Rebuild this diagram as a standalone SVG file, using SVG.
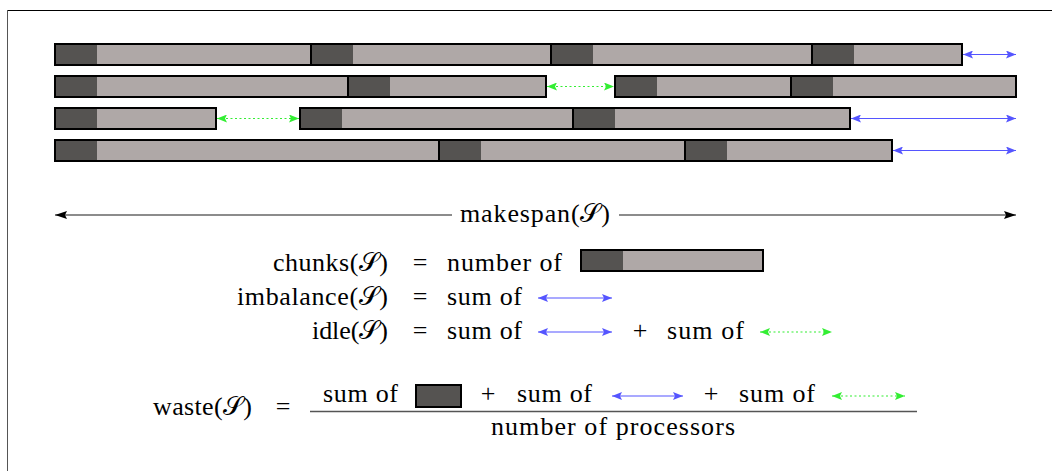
<svg xmlns="http://www.w3.org/2000/svg" width="1052" height="471" viewBox="0 0 1052 471">
<style>
  .lt { fill: #afa8a7; }
  .dk { fill: #555351; }
  .ol { fill: none; stroke: #000; stroke-width: 2; }
  .t { font-family: 'Liberation Serif', 'DejaVu Serif', serif; font-size: 26px; fill: #000; }
  .blue { stroke: #5555ff; stroke-width: 1.2; fill: none; marker-start: url(#bs); marker-end: url(#be); }
  .green { stroke: #33ee33; stroke-width: 1.2; fill: none; stroke-dasharray: 2 2.5; marker-start: url(#gs); marker-end: url(#ge); }
  .span { stroke: #666; stroke-width: 1.4; fill: none; }
</style>
<defs>
  <marker id="be" viewBox="0 0 10 8" refX="10" refY="4" markerWidth="10" markerHeight="8" markerUnits="userSpaceOnUse" orient="auto">
    <path d="M0,0 L10,4 L0,8 L2,4 z" fill="#5555ff"/>
  </marker>
  <marker id="bs" viewBox="0 0 10 8" refX="0" refY="4" markerWidth="10" markerHeight="8" markerUnits="userSpaceOnUse" orient="auto">
    <path d="M10,0 L0,4 L10,8 L8,4 z" fill="#5555ff"/>
  </marker>
  <marker id="ge" viewBox="0 0 10 8" refX="10" refY="4" markerWidth="10" markerHeight="8" markerUnits="userSpaceOnUse" orient="auto">
    <path d="M0,0 L10,4 L0,8 L2,4 z" fill="#33ee33"/>
  </marker>
  <marker id="gs" viewBox="0 0 10 8" refX="0" refY="4" markerWidth="10" markerHeight="8" markerUnits="userSpaceOnUse" orient="auto">
    <path d="M10,0 L0,4 L10,8 L8,4 z" fill="#33ee33"/>
  </marker>
  <marker id="ke" viewBox="0 0 12 8" refX="12" refY="4" markerWidth="12" markerHeight="8" markerUnits="userSpaceOnUse" orient="auto">
    <path d="M0,0 L12,4 L0,8 L2,4 z" fill="#000"/>
  </marker>
  <marker id="ks" viewBox="0 0 12 8" refX="0" refY="4" markerWidth="12" markerHeight="8" markerUnits="userSpaceOnUse" orient="auto">
    <path d="M12,0 L0,4 L12,8 L10,4 z" fill="#000"/>
  </marker>
</defs>

<rect x="0" y="0" width="1052" height="471" fill="#fff"/>
<g id="frame">
  <line x1="7" y1="10.5" x2="1052" y2="10.5" stroke="#000" stroke-width="1"/>
  <line x1="7.5" y1="10" x2="7.5" y2="471" stroke="#555" stroke-width="1"/>
</g>

<!-- Row 1 -->
<g id="row1">
  <g id="r1c1"><rect class="lt" x="55" y="44" width="256" height="21"/><rect class="dk" x="55" y="44" width="42" height="21"/><rect class="ol" x="55" y="44" width="256" height="21"/></g>
  <g id="r1c2"><rect class="lt" x="311" y="44" width="240" height="21"/><rect class="dk" x="311" y="44" width="42" height="21"/><rect class="ol" x="311" y="44" width="240" height="21"/></g>
  <g id="r1c3"><rect class="lt" x="551" y="44" width="261" height="21"/><rect class="dk" x="551" y="44" width="42" height="21"/><rect class="ol" x="551" y="44" width="261" height="21"/></g>
  <g id="r1c4"><rect class="lt" x="812" y="44" width="150" height="21"/><rect class="dk" x="812" y="44" width="42" height="21"/><rect class="ol" x="812" y="44" width="150" height="21"/></g>
</g>
<!-- Row 2 -->
<g id="row2">
  <g id="r2c1"><rect class="lt" x="55" y="76" width="293" height="21"/><rect class="dk" x="55" y="76" width="42" height="21"/><rect class="ol" x="55" y="76" width="293" height="21"/></g>
  <g id="r2c2"><rect class="lt" x="348" y="76" width="198" height="21"/><rect class="dk" x="348" y="76" width="42" height="21"/><rect class="ol" x="348" y="76" width="198" height="21"/></g>
  <g id="r2c3"><rect class="lt" x="615" y="76" width="176" height="21"/><rect class="dk" x="615" y="76" width="42" height="21"/><rect class="ol" x="615" y="76" width="176" height="21"/></g>
  <g id="r2c4"><rect class="lt" x="791" y="76" width="225" height="21"/><rect class="dk" x="791" y="76" width="42" height="21"/><rect class="ol" x="791" y="76" width="225" height="21"/></g>
</g>
<!-- Row 3 -->
<g id="row3">
  <g id="r3c1"><rect class="lt" x="55" y="108" width="161" height="21"/><rect class="dk" x="55" y="108" width="42" height="21"/><rect class="ol" x="55" y="108" width="161" height="21"/></g>
  <g id="r3c2"><rect class="lt" x="300" y="108" width="273" height="21"/><rect class="dk" x="300" y="108" width="42" height="21"/><rect class="ol" x="300" y="108" width="273" height="21"/></g>
  <g id="r3c3"><rect class="lt" x="573" y="108" width="277" height="21"/><rect class="dk" x="573" y="108" width="42" height="21"/><rect class="ol" x="573" y="108" width="277" height="21"/></g>
</g>
<!-- Row 4 -->
<g id="row4">
  <g id="r4c1"><rect class="lt" x="55" y="140" width="384" height="21"/><rect class="dk" x="55" y="140" width="42" height="21"/><rect class="ol" x="55" y="140" width="384" height="21"/></g>
  <g id="r4c2"><rect class="lt" x="439" y="140" width="246" height="21"/><rect class="dk" x="439" y="140" width="42" height="21"/><rect class="ol" x="439" y="140" width="246" height="21"/></g>
  <g id="r4c3"><rect class="lt" x="685" y="140" width="207" height="21"/><rect class="dk" x="685" y="140" width="42" height="21"/><rect class="ol" x="685" y="140" width="207" height="21"/></g>
</g>

<g id="connectors">
  <line class="blue" x1="963" y1="54.5" x2="1016" y2="54.5"/>
  <line class="green" x1="547" y1="86.5" x2="614" y2="86.5"/>
  <line class="green" x1="217" y1="118.5" x2="299" y2="118.5"/>
  <line class="blue" x1="851" y1="118.5" x2="1016" y2="118.5"/>
  <line class="blue" x1="893" y1="150.5" x2="1016" y2="150.5"/>
  <line class="span" x1="55" y1="215" x2="452" y2="215" marker-start="url(#ks)"/>
  <line class="span" x1="619" y1="215" x2="1016" y2="215" marker-end="url(#ke)"/>
</g>

<g id="makespan">
  <text class="t" x="460" y="222" textLength="150" lengthAdjust="spacing">makespan(𝒮)</text>
</g>

<g id="legend-chunks">
  <text class="t" x="273" y="271" textLength="115" lengthAdjust="spacing">chunks(𝒮)</text>
  <text class="t" x="420" y="271" text-anchor="middle">=</text>
  <text class="t" x="447" y="271" textLength="115" lengthAdjust="spacing">number of</text>
  <rect class="lt" x="581" y="250" width="182" height="21"/><rect class="dk" x="581" y="250" width="42" height="21"/><rect class="ol" x="581" y="250" width="182" height="21"/>
</g>

<g id="legend-imbalance">
  <text class="t" x="237" y="305" textLength="151" lengthAdjust="spacing">imbalance(𝒮)</text>
  <text class="t" x="420" y="305" text-anchor="middle">=</text>
  <text class="t" x="447" y="305" textLength="75" lengthAdjust="spacing">sum of</text>
  <line class="blue" x1="538" y1="298" x2="612" y2="298"/>
</g>

<g id="legend-idle">
  <text class="t" x="312" y="339" textLength="76" lengthAdjust="spacing">idle(𝒮)</text>
  <text class="t" x="420" y="339" text-anchor="middle">=</text>
  <text class="t" x="447" y="339" textLength="75" lengthAdjust="spacing">sum of</text>
  <line class="blue" x1="538" y1="332" x2="612" y2="332"/>
  <text class="t" x="640" y="339" text-anchor="middle">+</text>
  <text class="t" x="667" y="339" textLength="77" lengthAdjust="spacing">sum of</text>
  <line class="green" x1="760" y1="332" x2="832" y2="332"/>
</g>

<g id="legend-waste">
  <text class="t" x="153" y="415" textLength="99" lengthAdjust="spacing">waste(𝒮)</text>
  <text class="t" x="283" y="415" text-anchor="middle">=</text>
  <text class="t" x="323" y="402" textLength="75" lengthAdjust="spacing">sum of</text>
  <rect x="416" y="385" width="45" height="22" fill="#555351" stroke="#000" stroke-width="2"/>
  <text class="t" x="488" y="402" text-anchor="middle">+</text>
  <text class="t" x="517" y="402" textLength="75" lengthAdjust="spacing">sum of</text>
  <line class="blue" x1="612" y1="396" x2="683" y2="396"/>
  <text class="t" x="711" y="402" text-anchor="middle">+</text>
  <text class="t" x="739" y="402" textLength="76" lengthAdjust="spacing">sum of</text>
  <line class="green" x1="832" y1="396" x2="905" y2="396"/>
  <line x1="310" y1="411.5" x2="917" y2="411.5" stroke="#555" stroke-width="1.4"/>
  <text class="t" x="491" y="435" textLength="244" lengthAdjust="spacing">number of processors</text>
</g>
</svg>
